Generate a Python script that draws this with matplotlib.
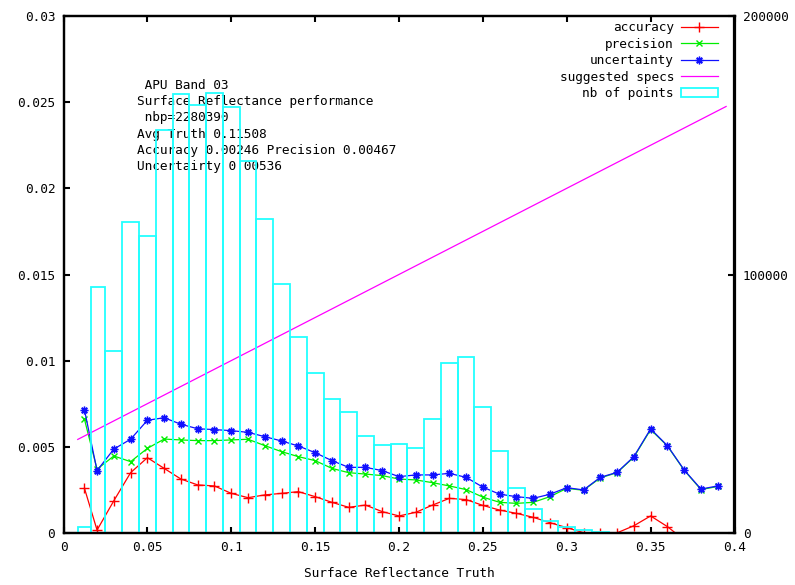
import numpy as np
import matplotlib
matplotlib.use('Agg')
import matplotlib.pyplot as plt
from matplotlib.lines import Line2D
from matplotlib.patches import Patch

# reflectance bins (truth)
truth = [0.0125, 0.02, 0.03, 0.04, 0.05, 0.06, 0.07, 0.08, 0.09, 0.10,
         0.11, 0.12, 0.13, 0.14, 0.15, 0.16, 0.17, 0.18, 0.19, 0.20,
         0.21, 0.22, 0.23, 0.24, 0.25, 0.26, 0.27, 0.28, 0.29, 0.30,
         0.31, 0.32, 0.33, 0.34, 0.35, 0.36, 0.37, 0.38, 0.39]

accuracy = [0.00259, 0.00017, 0.00187, 0.00350, 0.00437, 0.00375, 0.00313, 0.00279, 0.00273, 0.00230,
            0.00205, 0.00221, 0.00230, 0.00240, 0.00211, 0.00178, 0.00149, 0.00162, 0.00124, 0.00099,
            0.00120, 0.00162, 0.00201, 0.00194, 0.00160, 0.00133, 0.00114, 0.00091, 0.00060, 0.00031,
            0.00002, -0.00002, 0.00001, 0.00042, 0.00099, 0.00037, -0.00040, -0.00100, -0.00080]

precision = [0.00660, 0.00370, 0.00447, 0.00414, 0.00491, 0.00545, 0.00540, 0.00536, 0.00536, 0.00540,
             0.00544, 0.00507, 0.00472, 0.00443, 0.00420, 0.00375, 0.00350, 0.00342, 0.00333, 0.00313,
             0.00308, 0.00292, 0.00273, 0.00252, 0.00208, 0.00178, 0.00172, 0.00178, 0.00211, 0.00259,
             0.00248, 0.00320, 0.00350, 0.00440, 0.00600, 0.00505, 0.00364, 0.00252, 0.00270]

uncertainty = [0.00714, 0.00362, 0.00487, 0.00544, 0.00654, 0.00669, 0.00631, 0.00605, 0.00600, 0.00594,
               0.00584, 0.00559, 0.00534, 0.00505, 0.00466, 0.00420, 0.00381, 0.00381, 0.00362, 0.00327,
               0.00337, 0.00337, 0.00346, 0.00323, 0.00266, 0.00225, 0.00211, 0.00201, 0.00225, 0.00263,
               0.00250, 0.00323, 0.00352, 0.00443, 0.00604, 0.00507, 0.00366, 0.00255, 0.00273]

nb_points = [2440, 95280, 70520, 120190, 114890, 155900, 169830, 165570, 170330, 164910,
             144020, 121350, 96330, 75940, 62010, 51950, 46920, 37520, 33930, 34550,
             33000, 43980, 65880, 67970, 48550, 31720, 17520, 9170, 4640, 2200,
             1160, 500, 0, 0, 0, 0, 0, 0, 0]

# suggested specs line end points
spec_x = [0.0085, 0.395]
spec_y = [0.00543, 0.02475]

info_lines = [" APU Band 03",
              "Surface Reflectance performance",
              " nbp=2280390",
              "Avg Truth 0.11508",
              "Accuracy 0.00246 Precision 0.00467",
              "Uncertairty 0.00536"]

xticks = [0, 0.05, 0.1, 0.15, 0.2, 0.25, 0.3, 0.35, 0.4]
xtick_labels = ["0", "0.05", "0.1", "0.15", "0.2", "0.25", "0.3", "0.35", "0.4"]
yticks = [0, 0.005, 0.01, 0.015, 0.02, 0.025, 0.03]
ytick_labels = ["0", "0.005", "0.01", "0.015", "0.02", "0.025", "0.03"]
y2ticks = [0, 100000, 200000]
y2tick_labels = ["0", "100000", "200000"]

RED = '#ff0000'
GREEN = '#00ee00'
BLUE = '#1010ff'
MAGENTA = '#ff00ff'
CYAN = '#22ffff'

plt.rcParams['font.family'] = 'DejaVu Sans Mono'
plt.rcParams['font.size'] = 9.2

fig = plt.figure(figsize=(7.95, 5.85), dpi=100)
ax = fig.add_axes([63.5 / 795, 52 / 585, 671 / 795, 517 / 585])

ax.plot(truth, accuracy, color=RED, lw=0.9, marker='+', ms=6.5, mew=1.0)
ax.plot(truth, precision, color=GREEN, lw=0.9, marker='x', ms=4.5, mew=1.0)
ax.plot(truth, uncertainty, color=BLUE, lw=0.9, marker=(8, 2, 0), ms=5.5, mew=1.0)
ax.plot(spec_x, spec_y, color=MAGENTA, lw=0.9)

ax.set_xlim(0, 0.4)
ax.set_ylim(0, 0.03)
ax.set_xticks(xticks)
ax.set_xticklabels(xtick_labels)
ax.set_yticks(yticks)
ax.set_yticklabels(ytick_labels)
ax.tick_params(direction='in', length=4, width=1.5, top=True, right=True, pad=6)
ax.set_xlabel("Surface Reflectance Truth", labelpad=9)

for i, line in enumerate(info_lines):
    ax.annotate(line, xy=(0.1095, 0.866), xycoords='axes fraction',
                xytext=(0, -11.7 * i), textcoords='offset points',
                va='center', ha='left')

# histogram of number of points on the second axis, gnuplot-style boxes
x = np.array(truth)
mids = (x[:-1] + x[1:]) / 2
left = np.concatenate([[x[0] - (mids[0] - x[0])], mids])
right = np.concatenate([mids, [x[-1] + (x[-1] - mids[-1])]])

ax2 = ax.twinx()
ax2.bar(left, nb_points, width=right - left, align='edge',
        facecolor='none', edgecolor=CYAN, lw=1.3)
ax2.set_ylim(0, 200000)
ax2.set_yticks(y2ticks)
ax2.set_yticklabels(y2tick_labels)
ax2.tick_params(direction='in', length=4, width=1.5, pad=6)

for a in (ax, ax2):
    for s in a.spines.values():
        s.set_linewidth(1.6)

handles = [Line2D([], [], color=RED, lw=0.9, marker='+', ms=6.5, mew=1.0),
           Line2D([], [], color=GREEN, lw=0.9, marker='x', ms=4.5, mew=1.0),
           Line2D([], [], color=BLUE, lw=0.9, marker=(8, 2, 0), ms=5.5, mew=1.0),
           Line2D([], [], color=MAGENTA, lw=0.9),
           Patch(facecolor='none', edgecolor=CYAN, lw=1.3)]
labels = ["accuracy", "precision", "uncertainty", "suggested specs", "nb of points"]
ax2.legend(handles, labels, loc='upper right', frameon=False, markerfirst=False,
           numpoints=1, handlelength=2.9, handletextpad=0.55, labelspacing=0.28,
           borderpad=0, borderaxespad=0,
           bbox_to_anchor=(718 / 795, 1 - 21 / 585), bbox_transform=fig.transFigure)

fig.savefig('out.png', dpi=100)
